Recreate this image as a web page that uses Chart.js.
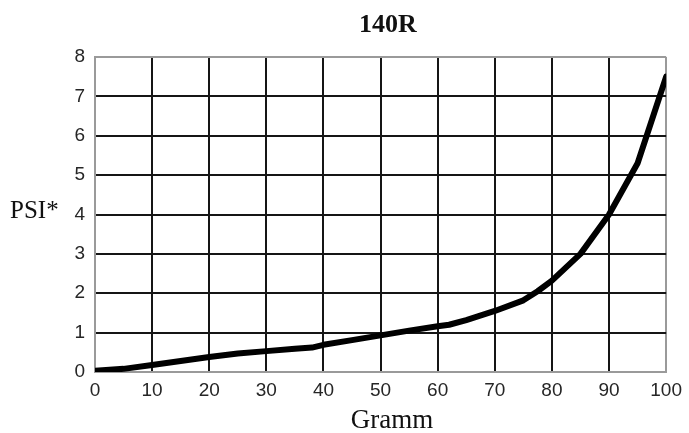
<!DOCTYPE html>
<html>
<head>
<meta charset="utf-8">
<script src="https://cdn.jsdelivr.net/npm/chart.js@4"></script>
<style>
html,body{margin:0;padding:0;background:#fff;}
#c{display:block;}
</style>
</head>
<body>
<canvas id="c" width="689" height="433"></canvas>
<script>
const chartTitle = "140R";
const xAxisTitle = "Gramm";
const yAxisTitle = "PSI*";
const grams = [0, 5, 10, 15, 20, 25, 30, 35, 38, 40, 45, 50, 55, 60, 62, 65, 70, 75, 77.5, 80, 85, 90, 95, 97.5, 100];
const psi   = [0.03, 0.08, 0.18, 0.28, 0.38, 0.47, 0.53, 0.59, 0.62, 0.69, 0.81, 0.93, 1.05, 1.16, 1.2, 1.32, 1.55, 1.82, 2.05, 2.32, 3.0, 4.0, 5.3, 6.4, 7.5];
const xTicks = [0, 10, 20, 30, 40, 50, 60, 70, 80, 90, 100];
const yTicks = [0, 1, 2, 3, 4, 5, 6, 7, 8];

const points = grams.map((g, i) => ({x: g, y: psi[i]}));

const textPlugin = {
  id: 'texts',
  afterDraw(chart) {
    const ctx = chart.ctx;
    const a = chart.chartArea;
    ctx.save();
    ctx.fillStyle = '#111';
    ctx.textBaseline = 'alphabetic';
    ctx.textAlign = 'center';
    ctx.font = 'bold 26px "Liberation Serif"';
    ctx.fillText(chartTitle, 388, 32);
    ctx.font = '27px "Liberation Serif"';
    ctx.fillText(xAxisTitle, 392, 428);
    ctx.textAlign = 'left';
    ctx.font = '25px "Liberation Serif"';
    ctx.fillText(yAxisTitle, 10, 218);
    ctx.restore();
  }
};

const gridColor = (ctx, max) => {
  const v = ctx.tick && ctx.tick.value;
  return (v === 0 || v === max) ? '#9a9a9a' : '#151515';
};

new Chart(document.getElementById('c'), {
  type: 'line',
  data: {
    datasets: [{
      data: points,
      borderColor: '#000',
      borderWidth: 6,
      pointRadius: 0,
      tension: 0,
      fill: false,
      borderCapStyle: 'round',
      borderJoinStyle: 'round'
    }]
  },
  options: {
    responsive: false,
    animation: false,
    devicePixelRatio: 1,
    layout: {padding: {top: 57, right: 18, left: 0, bottom: 0}},
    plugins: {legend: {display: false}, tooltip: {enabled: false}, title: {display: false}},
    scales: {
      x: {
        type: 'linear',
        min: 0, max: 100,
        afterBuildTicks: s => { s.ticks = xTicks.map(v => ({value: v})); },
        afterFit: s => { s.height = 61; },
        ticks: {padding: 7, color: '#262626', font: {family: '"Liberation Sans"', size: 19}},
        grid: {drawTicks: false, lineWidth: 2, color: c => gridColor(c, 100)},
        border: {color: '#9a9a9a', width: 2}
      },
      y: {
        type: 'linear',
        min: 0, max: 8,
        afterBuildTicks: s => { s.ticks = yTicks.map(v => ({value: v})); },
        afterFit: s => { s.width = 95; },
        ticks: {padding: 10, color: '#262626', font: {family: '"Liberation Sans"', size: 19}},
        grid: {drawTicks: false, lineWidth: 2, color: c => gridColor(c, 8)},
        border: {color: '#9a9a9a', width: 2}
      }
    }
  },
  plugins: [textPlugin]
});
</script>
</body>
</html>
